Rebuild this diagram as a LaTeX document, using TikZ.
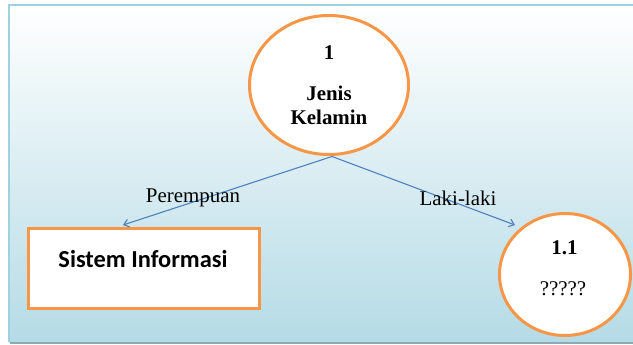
\documentclass[tikz,border=0pt]{standalone}
\usepackage{fontspec}
\setmainfont{Liberation Serif}
\newfontfamily\calibri{Carlito}
\usetikzlibrary{shapes.geometric,arrows.meta}
\definecolor{orng}{HTML}{F79646}
\definecolor{lnblue}{HTML}{4F81BD}
\definecolor{bgbot}{HTML}{B5DBE6}
\definecolor{framec}{HTML}{9DD2E0}
\definecolor{shadowc}{HTML}{8FA9B2}
\begin{document}
\begin{tikzpicture}[x=1bp,y=-1bp,
  ell/.style={ellipse, draw=orng, line width=3bp, fill=white, inner sep=0pt},
  boxnode/.style={rectangle, draw=orng, line width=3bp, fill=white, inner sep=0pt},
  txt/.style={font=\fontsize{21}{24}\selectfont, inner sep=0pt},
  btxt/.style={font=\bfseries\fontsize{21}{24}\selectfont, inner sep=0pt, align=center},
  conn/.style={draw=lnblue, line width=1.1bp, -{Straight Barb[length=5bp,width=8bp]}}]
\useasboundingbox (0,0) rectangle (633,344);
\shade[top color=white, bottom color=bgbot] (9,5) rectangle (640,342);
\draw[shadowc, line width=2bp] (10,343) -- (640,343);
\draw[framec, line width=1.8bp] (640,5) -- (9,5) -- (9,342);

\node[ell, minimum width=159bp, minimum height=139bp, btxt] (top) at (329,85) {1\\[17bp]Jenis\\Kelamin};
\node[boxnode, minimum width=231bp, minimum height=80bp] (si) at (144,268.5) {};
\node[inner sep=0pt, font=\calibri\bfseries\fontsize{24.5}{28}\selectfont] (sitext) at (143,259) {Sistem Informasi};
\node[ell, minimum width=131bp, minimum height=122bp] (q) at (565,274.5) {};
\node[btxt] (qnum) at (564.5,248) {1.1};
\node[txt] (qtext) at (563,289) {?????};

\coordinate (pe) at (123,225);
\coordinate (le) at (515,225);
\draw[conn] (332,156.5) coordinate (org) -- (pe);
\draw[conn] (org) -- (le);

\node[txt] (lp) at (193,198) {Perempuan};
\node[txt] (ll) at (458,198) {Laki-laki};
\end{tikzpicture}
\end{document}
